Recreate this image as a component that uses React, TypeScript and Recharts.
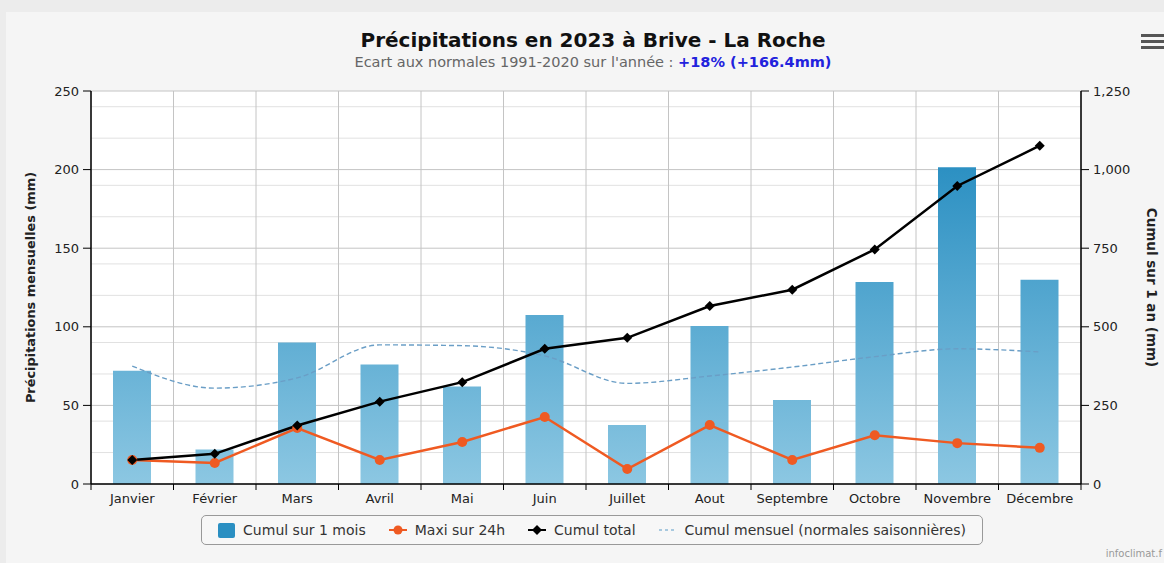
import React from 'react';
import {
  ComposedChart, Bar, Line, XAxis, YAxis, CartesianGrid, Legend,
} from 'recharts';

const months = ['Janvier', 'Février', 'Mars', 'Avril', 'Mai', 'Juin', 'Juillet', 'Aout', 'Septembre', 'Octobre', 'Novembre', 'Décembre'];
const monthly = [72, 22, 90, 76, 62, 107.5, 37.5, 100.5, 53.5, 128.5, 201.5, 130];
const max24h = [15.3, 13.4, 35.6, 15.3, 26.7, 42.6, 9.5, 37.5, 15.3, 31, 26, 23];
const cumulTotal = [76, 96, 186, 262, 324, 430, 465, 566, 618, 746, 948, 1076];
const normals = [75, 61, 67.5, 88.5, 88, 81.5, 64, 68.7, 74.4, 81, 86, 84];

const leftTicks = [0, 50, 100, 150, 200, 250];
const rightTicks = [0, 250, 500, 750, 1000, 1250];
const minorLeft = [10, 20, 30, 40, 60, 70, 80, 90, 110, 120, 130, 140, 160, 170, 180, 190, 210, 220, 230, 240];

const data = months.map((m, i) => ({
  month: m,
  monthly: monthly[i],
  max24h: max24h[i],
  cumul: cumulTotal[i],
  normal: normals[i],
}));

const FONT = '"DejaVu Sans", Verdana, sans-serif';

const Diamond = (props: any) => {
  const { cx, cy } = props;
  if (cx == null || cy == null) return null;
  const s = 5;
  return <path d={`M${cx},${cy - s}L${cx + s},${cy}L${cx},${cy + s}L${cx - s},${cy}Z`} fill="#000" />;
};

const MonthTick = (props: any) => {
  const { x, y, payload, index, width } = props;
  const band = width / months.length;
  const left = x - band / 2;
  return (
    <g>
      <line x1={left} x2={left} y1={y - 8} y2={y - 2} stroke="#000" strokeWidth={1} />
      {index === months.length - 1 && (
        <line x1={left + band} x2={left + band} y1={y - 8} y2={y - 2} stroke="#000" strokeWidth={1} />
      )}
      <text x={x} y={y + 11} textAnchor="middle" fontSize={13} fill="#222" fontFamily={FONT}>{payload.value}</text>
    </g>
  );
};

const LegendContent = () => (
  <div style={{ display: 'flex', justifyContent: 'center' }}>
    <div style={{
      display: 'flex', alignItems: 'center', gap: 23, border: '1px solid #999', borderRadius: 5,
      background: '#f7f7f7', padding: '5px 16px', fontFamily: FONT, fontSize: 14, color: '#333', height: 18,
    }}>
      <span style={{ display: 'flex', alignItems: 'center', gap: 8 }}>
        <span style={{ width: 17, height: 15, background: '#2a8fc2', borderRadius: 2, display: 'inline-block' }} />
        Cumul sur 1 mois
      </span>
      <span style={{ display: 'flex', alignItems: 'center', gap: 8 }}>
        <svg width={18} height={12}><line x1={0} x2={18} y1={6} y2={6} stroke="#ef5a22" strokeWidth={2} /><circle cx={9} cy={6} r={4.5} fill="#ef5a22" /></svg>
        Maxi sur 24h
      </span>
      <span style={{ display: 'flex', alignItems: 'center', gap: 8 }}>
        <svg width={18} height={12}><line x1={0} x2={18} y1={6} y2={6} stroke="#000" strokeWidth={2} /><path d="M9,1L14,6L9,11L4,6Z" fill="#000" /></svg>
        Cumul total
      </span>
      <span style={{ display: 'flex', alignItems: 'center', gap: 8 }}>
        <svg width={18} height={12}><line x1={0} x2={18} y1={6} y2={6} stroke="#8fbad8" strokeWidth={1.5} strokeDasharray="3 3" /></svg>
        Cumul mensuel (normales saisonnières)
      </span>
    </div>
  </div>
);

export default function App() {
  return (
    <div style={{ position: 'absolute', left: 0, top: 0, width: 1164, height: 563, background: '#ececec', overflow: 'hidden' }}>
      <div style={{ position: 'absolute', left: 6, top: 12, right: 0, bottom: 0, background: '#f5f5f5' }} />
      <div style={{ position: 'absolute', top: 28, left: 0, width: 1186, textAlign: 'center', fontFamily: FONT, fontSize: 20, fontWeight: 'bold', color: '#111' }}>
        Précipitations en 2023 à Brive - La Roche
      </div>
      <div style={{ position: 'absolute', top: 54, left: 0, width: 1186, textAlign: 'center', fontFamily: FONT, fontSize: 14.5, color: '#666' }}>
        Ecart aux normales 1991-2020 sur l'année : <span style={{ color: '#2222dd', fontWeight: 'bold' }}>+18% (+166.4mm)</span>
      </div>
      <div style={{ position: 'absolute', left: 1141, top: 34 }}>
        {[0, 6, 12].map((o) => (
          <div key={o} style={{ position: 'absolute', top: o, left: 0, width: 24, height: 3, background: '#555' }} />
        ))}
      </div>
      <div style={{ position: 'absolute', right: 2, top: 548, fontFamily: FONT, fontSize: 10, color: '#999' }}>infoclimat.f</div>
      <div style={{ position: 'absolute', left: 0, top: 0 }}>
        <ComposedChart width={1164} height={563} data={data} margin={{ top: 91, right: 0, bottom: 49, left: 0 }}>
          <defs>
            <linearGradient id="barGrad" gradientUnits="userSpaceOnUse" x1={0} y1={91} x2={0} y2={484}>
              <stop offset="0%" stopColor="#1583bb" />
              <stop offset="100%" stopColor="#8cc7e2" />
            </linearGradient>
          </defs>
          <CartesianGrid
            yAxisId="left"
            fill="#fff"
            stroke="#e1e1e1"
            vertical={false}
            horizontalValues={minorLeft}
          />
          <CartesianGrid
            yAxisId="left"
            stroke="#c4c4c4"
            horizontalValues={leftTicks}
            verticalCoordinatesGenerator={({ offset }: any) =>
              months.map((_, i) => offset.left + (offset.width * i) / months.length).concat([offset.left + offset.width])
            }
          />
          <XAxis
            dataKey="month"
            height={30}
            stroke="#000"
            axisLine={{ stroke: '#000', strokeWidth: 1.5 }}
            tickLine={false}
            tick={<MonthTick />}
            interval={0}
          />
          <YAxis
            yAxisId="left"
            orientation="left"
            width={91}
            domain={[0, 250]}
            ticks={leftTicks}
            axisLine={{ stroke: '#000', strokeWidth: 1.5 }}
            tickLine={{ stroke: '#000' }}
            tickSize={8}
            tickMargin={4}
            tick={{ fill: '#222', fontSize: 13, fontFamily: FONT }}
            label={{
              value: 'Précipitations mensuelles (mm)', angle: -90, position: 'insideLeft', offset: 30,
              style: { textAnchor: 'middle', fontWeight: 'bold', fontSize: 12.9, fill: '#222', fontFamily: FONT },
            }}
          />
          <YAxis
            yAxisId="right"
            orientation="right"
            width={83}
            domain={[0, 1250]}
            ticks={rightTicks}
            axisLine={{ stroke: '#000', strokeWidth: 1.5 }}
            tickLine={{ stroke: '#000' }}
            tickSize={8}
            tickMargin={4}
            tickFormatter={(v: number) => v.toLocaleString('en-US')}
            tick={{ fill: '#222', fontSize: 13, fontFamily: FONT }}
            label={{
              value: 'Cumul sur 1 an (mm)', angle: 90, position: 'insideRight', offset: 12,
              style: { textAnchor: 'middle', fontWeight: 'bold', fontSize: 13.5, fill: '#222', fontFamily: FONT },
            }}
          />
          <Legend
            verticalAlign="middle"
            align="center"
            layout="horizontal"
            content={<LegendContent />}
            wrapperStyle={{ top: 515, left: 0, width: 1184 }}
          />
          <Bar yAxisId="left" dataKey="monthly" fill="url(#barGrad)" barSize={38} isAnimationActive={false} />
          <Line yAxisId="left" dataKey="normal" type="monotone" stroke="#6a9ec6" strokeWidth={1.4} strokeDasharray="5 3" dot={false} isAnimationActive={false} />
          <Line yAxisId="left" dataKey="max24h" type="linear" stroke="#ef5a22" strokeWidth={2.5} dot={{ r: 5, fill: '#ef5a22', stroke: '#ef5a22', strokeWidth: 0 }} isAnimationActive={false} />
          <Line yAxisId="right" dataKey="cumul" type="linear" stroke="#000" strokeWidth={2.5} dot={<Diamond />} isAnimationActive={false} />
        </ComposedChart>
      </div>
    </div>
  );
}
